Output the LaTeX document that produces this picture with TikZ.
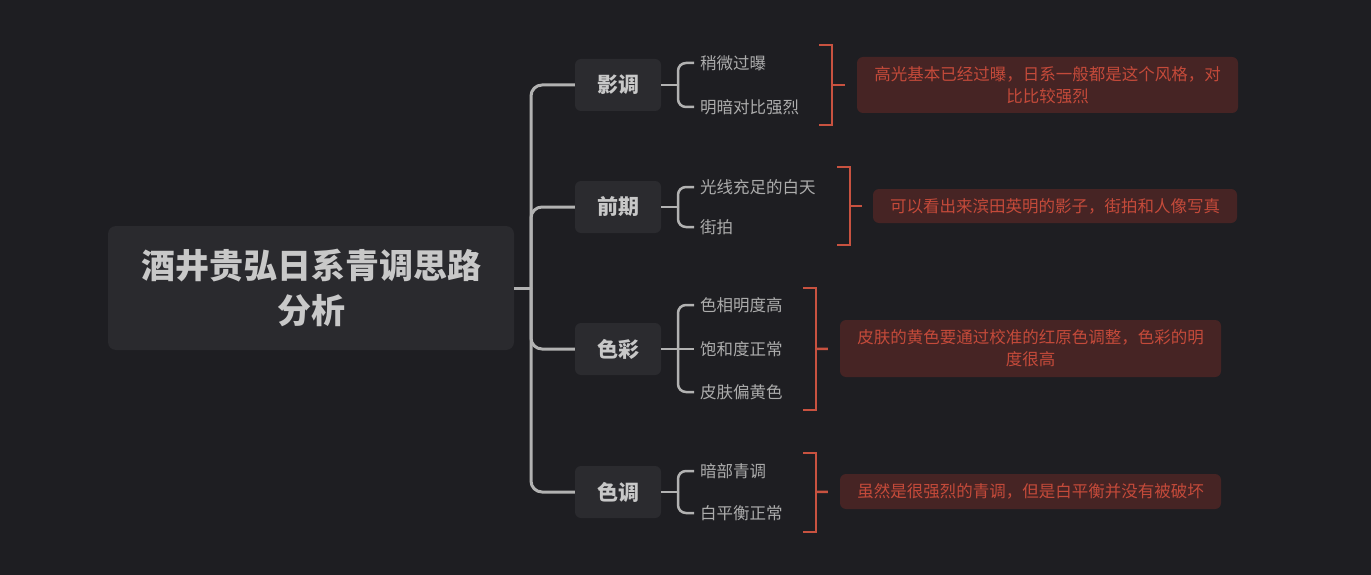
\documentclass[tikz,border=0pt]{standalone}
\usepackage{fontspec}
\setmainfont{Noto Sans CJK SC}
\usetikzlibrary{calc}
\definecolor{bg}{RGB}{30,30,34}
\definecolor{nodefill}{RGB}{43,43,47}
\definecolor{rootfill}{RGB}{42,42,46}
\definecolor{linegray}{RGB}{178,178,178}
\definecolor{maintext}{RGB}{200,200,200}
\definecolor{itemtext}{RGB}{172,172,172}
\definecolor{redline}{RGB}{200,82,64}
\definecolor{redfill}{RGB}{70,36,36}
\definecolor{redtext}{RGB}{196,74,58}
\tikzset{
  rootbox/.style={fill=rootfill, rounded corners=8pt, minimum width=406pt, minimum height=124pt,
    text=maintext, align=center, font=\fontsize{34}{45}\selectfont\bfseries, inner sep=0pt},
  mainbox/.style={fill=nodefill, rounded corners=6pt, minimum width=86pt, minimum height=52pt,
    text=maintext, font=\fontsize{21}{24}\selectfont\bfseries, inner sep=0pt},
  itembox/.style={anchor=west, text=itemtext, font=\fontsize{16.5}{18}\selectfont, inner xsep=6pt, inner ysep=0pt},
  sumbox/.style={fill=redfill, rounded corners=6pt, text=redtext, align=center,
    font=\fontsize{16.5}{22}\selectfont, inner sep=0pt},
  trunk/.style={draw=linegray, line width=3pt, rounded corners=11pt},
  brace/.style={draw=linegray, line width=2.5pt, rounded corners=8pt},
  bracket/.style={draw=redline, line width=2.5pt},
}
\begin{document}
\begin{tikzpicture}[x=1pt,y=-1pt]
\useasboundingbox (0,0) rectangle (1371,575);
\fill[bg] (0,0) rectangle (1371,575);

% root
\node[rootbox] (root) at (311,288) {酒井贵弘日系青调思路\\分析};

% main nodes
\node[mainbox] (m1) at (618,85) {影调};
\node[mainbox] (m2) at (618,207) {前期};
\node[mainbox] (m3) at (618,349) {色彩};
\node[mainbox] (m4) at (618,492) {色调};

% trunk
\coordinate (tr) at (531,288);
\draw[trunk] (root.east) -- (tr);
\draw[trunk] (tr) |- (m1.west);
\draw[trunk] (tr) |- (m2.west);
\draw[trunk] (tr) |- (m3.west);
\draw[trunk] (tr) |- (m4.west);

% items
\node[itembox] (i11) at (694,63) {稍微过曝};
\node[itembox] (i12) at (694,107) {明暗对比强烈};
\node[itembox] (i21) at (694,187) {光线充足的白天};
\node[itembox] (i22) at (694,227) {街拍};
\node[itembox] (i31) at (694,305) {色相明度高};
\node[itembox] (i32) at (694,349) {饱和度正常};
\node[itembox] (i33) at (694,392) {皮肤偏黄色};
\node[itembox] (i41) at (694,471) {暗部青调};
\node[itembox] (i42) at (694,513) {白平衡正常};

% braces
\coordinate (b1) at (678,85);
\coordinate (b2) at (678,207);
\coordinate (b3) at (678,349);
\coordinate (b4) at (678,492);
\draw[brace] (m1.east) -- (b1);
\draw[brace] (b1) |- (i11.west);
\draw[brace] (b1) |- (i12.west);
\draw[brace] (m2.east) -- (b2);
\draw[brace] (b2) |- (i21.west);
\draw[brace] (b2) |- (i22.west);
\draw[brace] (m3.east) -- (i32.west);
\draw[brace] (b3) |- (i31.west);
\draw[brace] (b3) |- (i33.west);
\draw[brace] (m4.east) -- (b4);
\draw[brace] (b4) |- (i41.west);
\draw[brace] (b4) |- (i42.west);

% summaries
\node[sumbox, minimum width=381pt, minimum height=56pt] (s1) at (1047.5,85)
  {高光基本已经过曝，日系一般都是这个风格，对\\比比较强烈};
\node[sumbox, minimum width=364pt, minimum height=34pt] (s2) at (1055,206)
  {可以看出来滨田英明的影子，街拍和人像写真};
\node[sumbox, minimum width=381pt, minimum height=57pt] (s3) at (1030.5,348.5)
  {皮肤的黄色要通过校准的红原色调整，色彩的明\\度很高};
\node[sumbox, minimum width=381pt, minimum height=35pt] (s4) at (1030.5,491.5)
  {虽然是很强烈的青调，但是白平衡并没有被破坏};

% red brackets
\coordinate (r1t) at (819,45);   \coordinate (r1b) at (819,125); \coordinate (r1m) at (832,85);
\coordinate (r2t) at (837,167);  \coordinate (r2b) at (837,245); \coordinate (r2m) at (850,206);
\coordinate (r3t) at (803,288);  \coordinate (r3b) at (803,410); \coordinate (r3m) at (816,349);
\coordinate (r4t) at (803,453);  \coordinate (r4b) at (803,532); \coordinate (r4m) at (816,492);
\draw[bracket] (r1t) -| (r1m) |- (r1b);
\draw[bracket, shorten >=12pt] (r1m) -- (s1.west);
\draw[bracket] (r2t) -| (r2m) |- (r2b);
\draw[bracket, shorten >=11pt] (r2m) -- (s2.west);
\draw[bracket] (r3t) -| (r3m) |- (r3b);
\draw[bracket, shorten >=12pt] (r3m) -- (s3.west);
\draw[bracket] (r4t) -| (r4m) |- (r4b);
\draw[bracket, shorten >=12pt] (r4m) -- (s4.west);
\end{tikzpicture}
\end{document}
